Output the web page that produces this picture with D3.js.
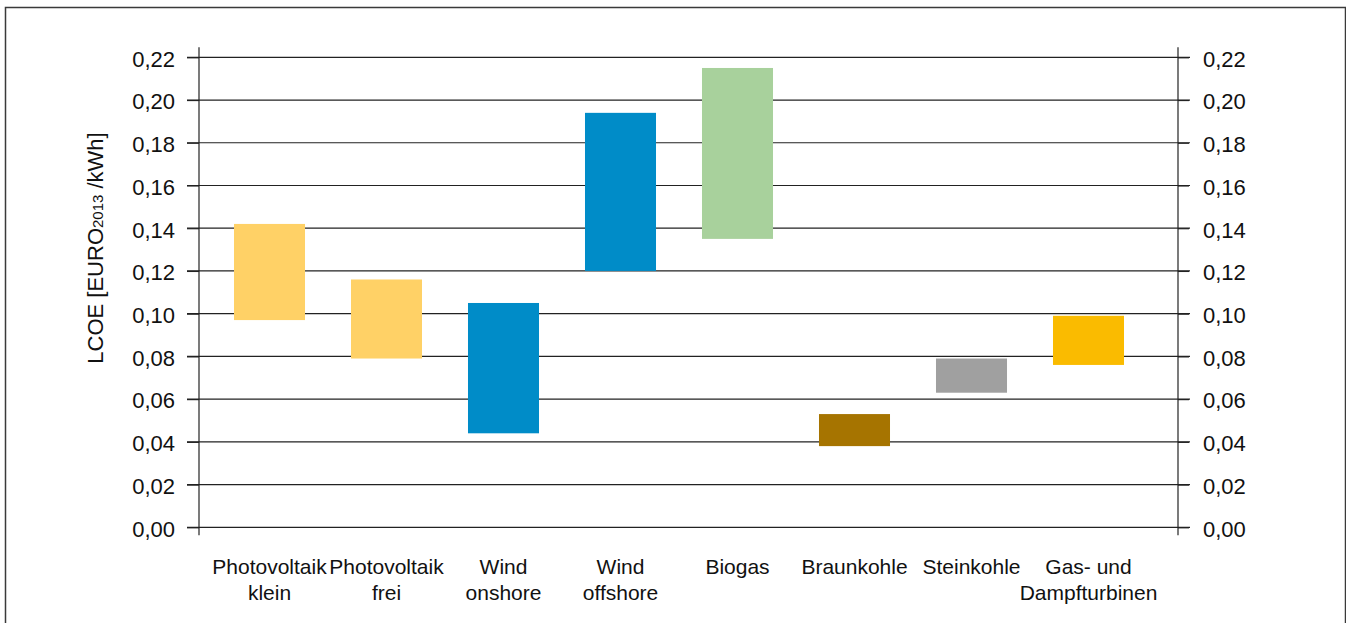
<!DOCTYPE html>
<html>
<head>
<meta charset="utf-8">
<script src="https://cdn.jsdelivr.net/npm/d3@7/dist/d3.min.js"></script>
<style>
  html, body { margin: 0; padding: 0; background: #fff; }
  svg { display: block; font-family: "Liberation Sans", Arial, sans-serif; }
</style>
</head>
<body>
<svg id="chart" width="1346" height="623"></svg>
<script>
// Technology categories (two-line labels)
const categories = [
  ["Photovoltaik", "klein"],
  ["Photovoltaik", "frei"],
  ["Wind", "onshore"],
  ["Wind", "offshore"],
  ["Biogas"],
  ["Braunkohle"],
  ["Steinkohle"],
  ["Gas- und", "Dampfturbinen"]
];
// LCOE range per technology, EUR2013/kWh
const lcoeLow  = [0.097, 0.079, 0.044, 0.120, 0.135, 0.038, 0.063, 0.076];
const lcoeHigh = [0.142, 0.116, 0.105, 0.194, 0.215, 0.053, 0.079, 0.099];
const barColors = ["#FFD166", "#FFD166", "#008CC8", "#008CC8", "#A8D19C", "#A67400", "#A0A0A0", "#FABB00"];
const yTicks = [0, 0.02, 0.04, 0.06, 0.08, 0.10, 0.12, 0.14, 0.16, 0.18, 0.20, 0.22];

const svg = d3.select("#chart");
const plot = { left: 199, right: 1178, top: 57.3, bottom: 527.3 };

const deLocale = d3.formatLocale({ decimal: ",", thousands: ".", grouping: [3], currency: ["", " €"] });
const fmt = deLocale.format(".2f");

// outer frame
svg.append("rect")
  .attr("x", 5.5).attr("y", 7.5)
  .attr("width", 1340).attr("height", 700)
  .attr("fill", "none").attr("stroke", "#3a3a3a").attr("stroke-width", 1.5);

const y = d3.scaleLinear().domain([0, 0.22]).range([plot.bottom, plot.top]);
const x = d3.scaleBand()
  .domain(d3.range(categories.length))
  .range([211, 1147])
  .paddingInner(0.393)
  .paddingOuter(0.1965);

// horizontal gridlines, running through the tick marks on both sides
svg.append("g").selectAll("line")
  .data(yTicks)
  .join("line")
  .attr("x1", plot.left - 12).attr("x2", plot.right + 12)
  .attr("y1", d => y(d)).attr("y2", d => y(d))
  .attr("stroke", "#222").attr("stroke-width", 1.2);

// vertical axis lines
[plot.left, plot.right].forEach(px => {
  svg.append("line")
    .attr("x1", px).attr("x2", px)
    .attr("y1", plot.top - 10).attr("y2", plot.bottom + 8)
    .attr("stroke", "#222").attr("stroke-width", 1.2);
});

// floating range bars
svg.append("g").selectAll("rect")
  .data(categories.map((c, i) => ({ i, lo: lcoeLow[i], hi: lcoeHigh[i] })))
  .join("rect")
  .attr("x", d => x(d.i))
  .attr("width", x.bandwidth())
  .attr("y", d => y(d.hi))
  .attr("height", d => y(d.lo) - y(d.hi))
  .attr("fill", d => barColors[d.i]);

// tick labels on both axes
const leftAxis = d3.axisLeft(y).tickValues(yTicks).tickFormat(fmt).tickSize(12).tickPadding(12);
const rightAxis = d3.axisRight(y).tickValues(yTicks).tickFormat(fmt).tickSize(11).tickPadding(14);

function styleAxis(g) {
  g.select(".domain").remove();
  g.selectAll(".tick line").attr("stroke", "#222").attr("stroke-width", 1.2);
  g.selectAll(".tick text")
    .attr("font-size", 22)
    .attr("fill", "#111")
    .attr("dy", "0.4em")
    .style("font-family", "'Liberation Sans', Arial, sans-serif");
}
svg.append("g").attr("transform", `translate(${plot.left},0)`).call(leftAxis).call(styleAxis);
svg.append("g").attr("transform", `translate(${plot.right},0)`).call(rightAxis).call(styleAxis);

// category labels
const catG = svg.append("g")
  .attr("font-size", 21).attr("fill", "#111").attr("text-anchor", "middle");
categories.forEach((lines, i) => {
  const cx = x(i) + x.bandwidth() / 2;
  const t = catG.append("text").attr("x", cx).attr("y", 574);
  lines.forEach((ln, k) => {
    t.append("tspan")
      .attr("x", cx)
      .attr("dy", k === 0 ? 0 : 26)
      .text(ln);
  });
});

// y axis title
const title = svg.append("text")
  .attr("transform", "translate(103,248) rotate(-90)")
  .attr("text-anchor", "middle")
  .attr("font-size", 22)
  .attr("fill", "#111");
title.append("tspan").text("LCOE [EURO");
title.append("tspan").attr("font-size", 15).text("2013");
title.append("tspan").text(" /kWh]");
</script>
</body>
</html>
